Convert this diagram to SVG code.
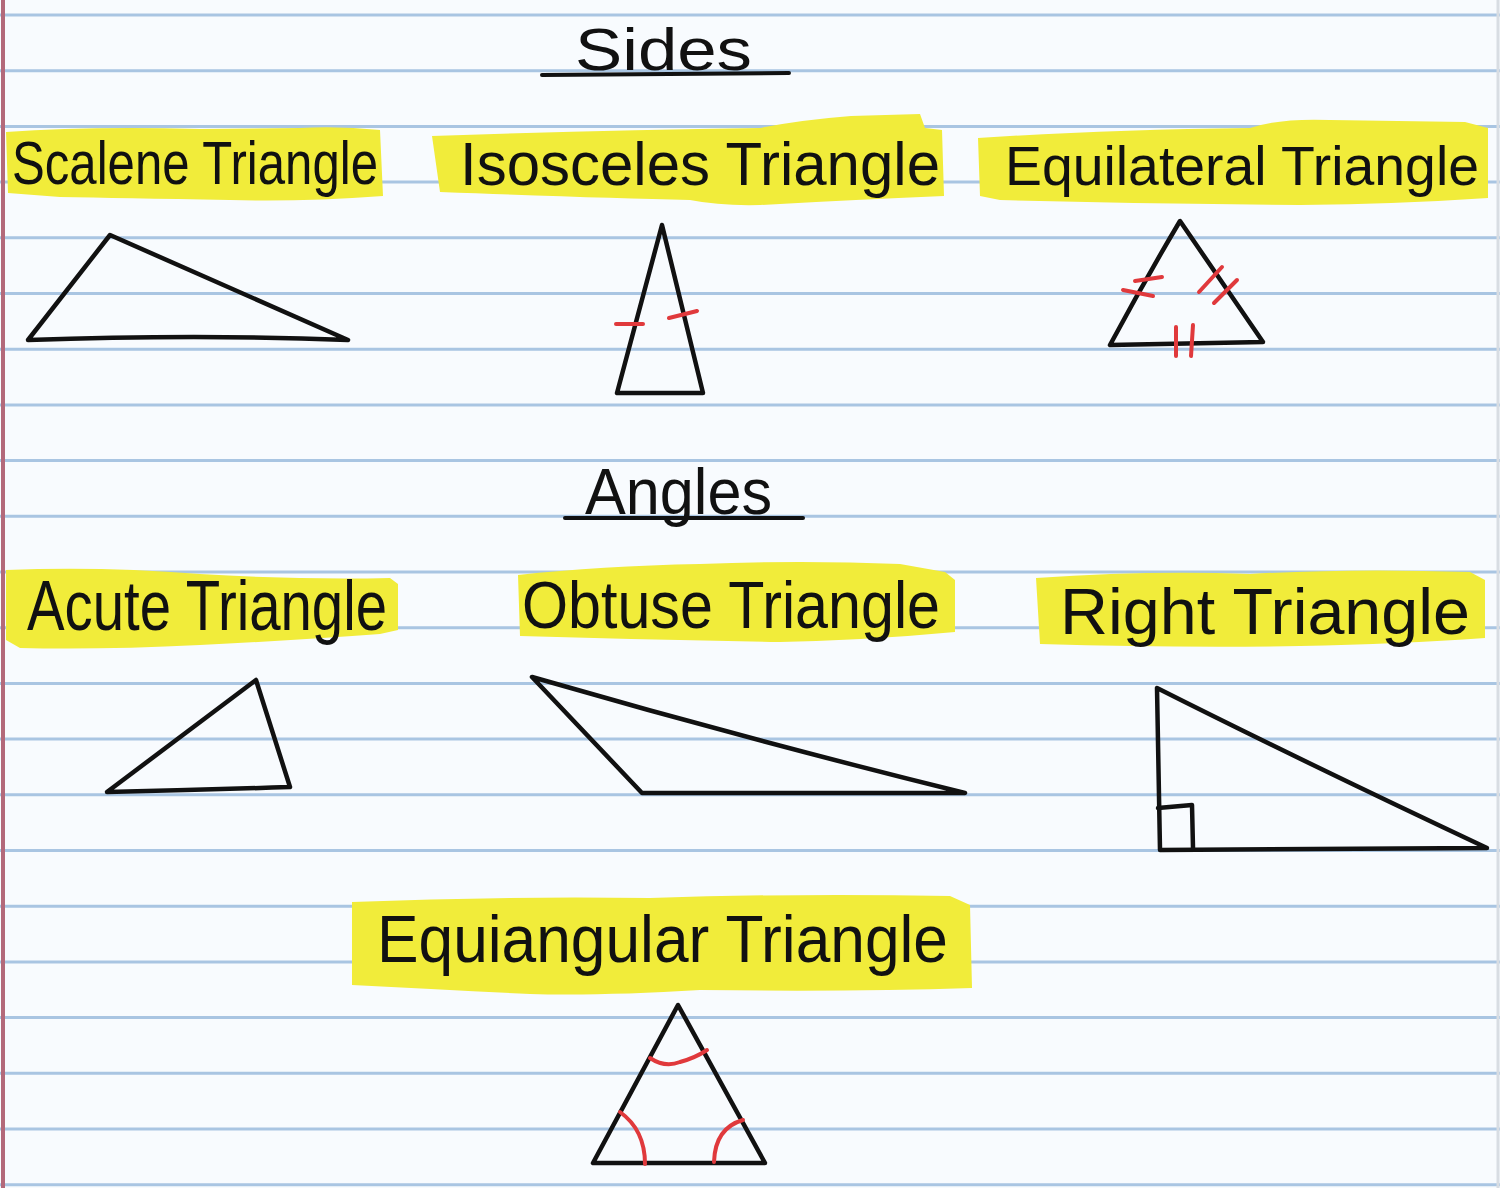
<svg xmlns="http://www.w3.org/2000/svg" width="1500" height="1188" viewBox="0 0 1500 1188">
<defs>
<style>
.rule{stroke:#a9c5e2;stroke-width:3;fill:none}
.hl{fill:#f1ec3a}
.t{font-family:"Liberation Sans","DejaVu Sans",sans-serif;fill:#111;}
.tri{fill:none;stroke:#111;stroke-width:4.5;stroke-linejoin:round;stroke-linecap:round}
.mark{fill:none;stroke:#e0393c;stroke-width:4;stroke-linecap:round}
.ul{stroke:#111;stroke-width:4;stroke-linecap:round;fill:none}
</style>
</defs>
<rect x="0" y="0" width="1500" height="1188" fill="#f8fbfe"/>
<g id="paper-lines">
<line class="rule" x1="0" y1="15" x2="1500" y2="15"/>
<line class="rule" x1="0" y1="70.7" x2="1500" y2="70.7"/>
<line class="rule" x1="0" y1="126.4" x2="1500" y2="126.4"/>
<line class="rule" x1="0" y1="182.1" x2="1500" y2="182.1"/>
<line class="rule" x1="0" y1="237.8" x2="1500" y2="237.8"/>
<line class="rule" x1="0" y1="293.5" x2="1500" y2="293.5"/>
<line class="rule" x1="0" y1="349.2" x2="1500" y2="349.2"/>
<line class="rule" x1="0" y1="404.9" x2="1500" y2="404.9"/>
<line class="rule" x1="0" y1="460.6" x2="1500" y2="460.6"/>
<line class="rule" x1="0" y1="516.3" x2="1500" y2="516.3"/>
<line class="rule" x1="0" y1="572" x2="1500" y2="572"/>
<line class="rule" x1="0" y1="627.7" x2="1500" y2="627.7"/>
<line class="rule" x1="0" y1="683.4" x2="1500" y2="683.4"/>
<line class="rule" x1="0" y1="739.1" x2="1500" y2="739.1"/>
<line class="rule" x1="0" y1="794.8" x2="1500" y2="794.8"/>
<line class="rule" x1="0" y1="850.5" x2="1500" y2="850.5"/>
<line class="rule" x1="0" y1="906.2" x2="1500" y2="906.2"/>
<line class="rule" x1="0" y1="961.9" x2="1500" y2="961.9"/>
<line class="rule" x1="0" y1="1017.6" x2="1500" y2="1017.6"/>
<line class="rule" x1="0" y1="1073.3" x2="1500" y2="1073.3"/>
<line class="rule" x1="0" y1="1129" x2="1500" y2="1129"/>
<line class="rule" x1="0" y1="1184.7" x2="1500" y2="1184.7"/>
<line x1="3" y1="0" x2="3" y2="1188" stroke="#b3697a" stroke-width="4"/>
<line x1="1498" y1="0" x2="1498" y2="1188" stroke="#d8dde3" stroke-width="3"/>
</g>

<g id="sides-heading">
<text class="t" x="575" y="70" font-size="60" textLength="177" lengthAdjust="spacingAndGlyphs">Sides</text>
<path class="ul" d="M542 75 L789 73"/>
</g>

<g id="scalene">
<path class="hl" d="M6 132 Q90 126 200 129 L300 128 Q340 126 380 130 L383 196 Q300 202 230 200 Q120 198 60 197 L8 193 Z"/>
<text class="t" x="12" y="184" font-size="62" textLength="366" lengthAdjust="spacingAndGlyphs">Scalene Triangle</text>
<path class="tri" d="M28 340 L110 235 L348 340 Q200 334 28 340 Z"/>
</g>

<g id="isosceles">
<path class="hl" d="M432 136 Q600 130 760 128 Q800 120 851 116 L920 114 L925 128 L942 130 L944 196 Q850 200 760 205 Q720 206 690 200 Q600 198 440 192 Z"/>
<text class="t" x="460" y="185" font-size="62" textLength="480" lengthAdjust="spacingAndGlyphs">Isosceles Triangle</text>
<path class="tri" d="M662 225 L617 393 L703 393 Z"/>
<path class="mark" d="M616 324 L643 324"/>
<path class="mark" d="M669 318 L697 311"/>
</g>

<g id="equilateral">
<path class="hl" d="M978 138 Q1100 130 1250 128 Q1280 118 1330 120 L1465 122 L1488 128 L1488 198 Q1400 204 1300 205 Q1150 204 1000 200 L980 196 Z"/>
<text class="t" x="1005" y="185" font-size="56" textLength="474" lengthAdjust="spacingAndGlyphs">Equilateral Triangle</text>
<path class="tri" d="M1180 221 Q1145 280 1110 345 L1263 342 Z"/>
<path class="mark" d="M1135 281 L1162 277"/>
<path class="mark" d="M1123 290 L1153 296"/>
<path class="mark" d="M1199 292 L1222 267"/>
<path class="mark" d="M1214 303 L1237 280"/>
<path class="mark" d="M1176 327 L1176 356"/>
<path class="mark" d="M1193 325 L1191 356"/>
</g>

<g id="angles-heading">
<text class="t" x="585" y="514" font-size="64" textLength="187" lengthAdjust="spacingAndGlyphs">Angles</text>
<path class="ul" d="M565 518 L803 518"/>
</g>

<g id="acute">
<path class="hl" d="M6 570 Q100 566 200 574 Q300 580 390 578 L398 584 L398 630 L380 634 Q300 640 200 645 Q100 650 20 648 L6 640 Z"/>
<text class="t" x="27" y="630" font-size="70" textLength="360" lengthAdjust="spacingAndGlyphs">Acute Triangle</text>
<path class="tri" d="M107 792 L256 680 L290 787 Q200 790 107 792 Z"/>
</g>

<g id="obtuse">
<path class="hl" d="M518 575 Q600 566 700 564 Q800 560 900 564 L945 572 L955 580 L955 632 Q870 640 780 642 Q650 640 520 636 Z"/>
<text class="t" x="522" y="628" font-size="66" textLength="418" lengthAdjust="spacingAndGlyphs">Obtuse Triangle</text>
<path class="tri" d="M532 677 Q750 740 965 793 L642 793 Z"/>
</g>

<g id="right">
<path class="hl" d="M1036 578 Q1150 570 1250 574 Q1350 568 1470 572 L1485 580 L1485 638 Q1400 644 1300 646 Q1180 648 1040 644 Z"/>
<text class="t" x="1060" y="634" font-size="64" textLength="410" lengthAdjust="spacingAndGlyphs">Right Triangle</text>
<path class="tri" d="M1157 688 L1160 850 L1487 848 Q1300 760 1157 688 Z"/>
<path class="tri" d="M1158 808 L1192 805 L1193 848"/>
</g>

<g id="equiangular">
<path class="hl" d="M352 902 Q500 896 650 898 Q800 893 950 896 L970 905 L972 988 Q850 992 700 990 Q600 996 530 994 Q450 990 352 985 Z"/>
<text class="t" x="377" y="962" font-size="66" textLength="571" lengthAdjust="spacingAndGlyphs">Equiangular Triangle</text>
<path class="tri" d="M678 1005 L593 1163 L765 1163 Z"/>
<path class="mark" d="M650 1058 Q665 1068 680 1062 Q695 1058 707 1050"/>
<path class="mark" d="M620 1112 Q645 1130 645 1164"/>
<path class="mark" d="M743 1120 Q715 1128 714 1162"/>
</g>
</svg>
